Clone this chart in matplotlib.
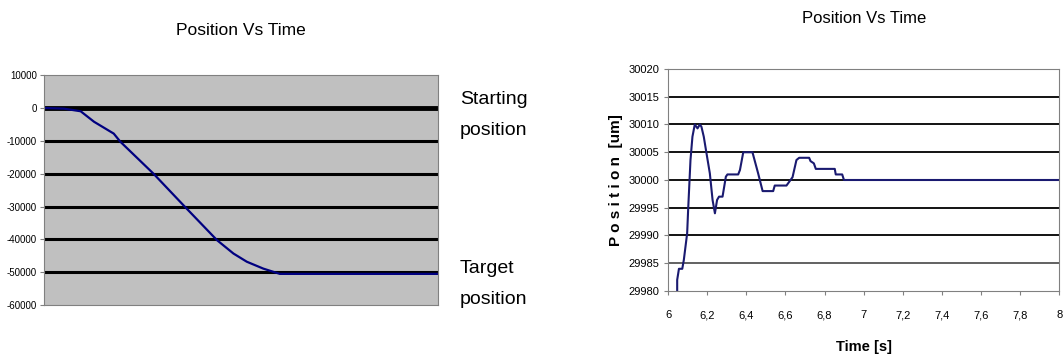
import matplotlib
matplotlib.use("Agg")
import matplotlib.pyplot as plt
from matplotlib.ticker import FuncFormatter

plt.rcParams['font.family'] = ['Liberation Sans', 'DejaVu Sans']
plt.rcParams['axes.unicode_minus'] = False

# Left chart: overall move (x is sample index, no labels shown)
move_x = [0, 5, 9.3, 12.7, 17.7, 19.4, 27.8, 35.4, 43.9, 48.1, 51.5, 55.7, 59.9, 100]
move_y = [0, -200, -1000, -4200, -7800, -10300, -20000, -29600, -40200, -44300, -46800, -48900, -50500, -50500]
left_yticks = [10000, 0, -10000, -20000, -30000, -40000, -50000, -60000]

# Right chart: settling around target
t = [6.046, 6.046, 6.055, 6.072, 6.08, 6.097, 6.102, 6.114, 6.124, 6.136, 6.15, 6.162, 6.17,
     6.182, 6.196, 6.213, 6.227, 6.239, 6.25, 6.26, 6.278, 6.295, 6.303, 6.358, 6.367, 6.384,
     6.431, 6.46, 6.483, 6.537, 6.545, 6.605, 6.636, 6.656, 6.67, 6.721, 6.728, 6.745, 6.755,
     6.852, 6.857, 6.89, 6.899, 8.0]
pos = [29980, 29982, 29984, 29984, 29985.6, 29990.4, 29994.6, 30003.6, 30007.8, 30010, 30009.3,
       30010, 30009.6, 30007.8, 30004.8, 30001.2, 29996.4, 29994, 29996.4, 29997, 29997, 30000.6,
       30001, 30001, 30001.8, 30005, 30005, 30001.2, 29998, 29998, 29999, 29999, 30000.5, 30003.6,
       30004, 30004, 30003.4, 30003, 30002, 30002, 30001, 30001, 30000, 30000]
right_yticks = [29980, 29985, 29990, 29995, 30000, 30005, 30010, 30015, 30020]
right_xticks = [6, 6.2, 6.4, 6.6, 6.8, 7, 7.2, 7.4, 7.6, 7.8, 8]

fig = plt.figure(figsize=(10.64, 3.56), dpi=100)

# ---- left chart ----
ax = fig.add_axes([0.0414, 0.143, 0.370, 0.646])
ax.set_facecolor('#c0c0c0')
for v in left_yticks[1:-1]:
    ax.axhline(v, color='black', lw=3.5 if v == 0 else 2.2, zorder=1)
ax.plot(move_x, move_y, color='#000080', lw=1.6, zorder=2)
ax.set_xlim(0, 100)
ax.set_ylim(-60000, 10000)
ax.set_yticks(left_yticks)
ax.set_xticks([])
ax.tick_params(axis='y', labelsize=7, length=3, pad=2, color='#808080')
for side in ['top', 'right', 'left', 'bottom']:
    ax.spines[side].set_color('#808080')
ax.set_title('Position Vs Time', fontsize=12.5, pad=29)
fig.text(0.432, 0.61, 'Starting\nposition', fontsize=14, va='bottom', linespacing=2.1)
fig.text(0.432, 0.135, 'Target\nposition', fontsize=14, va='bottom', linespacing=2.1)

# ---- right chart ----
bx = fig.add_axes([0.628, 0.1826, 0.3675, 0.6236])
for v in right_yticks[1:-1]:
    bx.axhline(v, color='#555555' if v == 29985 else 'black', lw=1.3, zorder=1)
bx.plot(t, pos, color='#1a1a70', lw=1.5, zorder=2)
bx.set_xlim(6, 8)
bx.set_ylim(29980, 30020)
bx.set_yticks(right_yticks)
bx.set_xticks(right_xticks)
bx.xaxis.set_major_formatter(FuncFormatter(lambda v, p: ('%g' % round(v, 1)).replace('.', ',')))
bx.tick_params(labelsize=8, length=3, color='#808080')
bx.tick_params(axis='x', pad=11)
for side in ['top', 'right', 'left', 'bottom']:
    bx.spines[side].set_color('#808080')
bx.set_title('Position Vs Time', fontsize=12, pad=33)
bx.set_ylabel('P o s i t i o n  [um]', fontsize=11, fontweight='bold', labelpad=4)
bx.set_xlabel('Time [s]', fontsize=10.5, fontweight='bold', labelpad=14)

fig.savefig('out.png', dpi=100)
